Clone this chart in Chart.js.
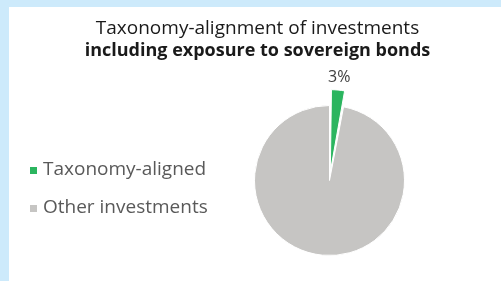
<!DOCTYPE html>
<html>
<head>
<meta charset="utf-8">
<title>Taxonomy-alignment of investments</title>
<script src="https://cdn.jsdelivr.net/npm/chart.js@4.4.1/dist/chart.umd.min.js"></script>
<style>
    html, body { margin: 0; padding: 0; }
    body { width: 501px; height: 281px; background: #cdeafb; position: relative; overflow: hidden; font-family: 'Open Sans', 'DejaVu Sans', sans-serif; }
    #panel { position: absolute; left: 9px; top: 7px; width: 492px; height: 274px; background: #fff; overflow: hidden; }
    #panel canvas { position: absolute; left: 0; top: 0; display: block; }
    #chart-title { position: absolute; left: 0; top: 9px; width: 497px; text-align: center; color: #1a1a1a; line-height: 22px; }
    #chart-title .main { font-size: 19px; font-weight: normal; }
    #chart-title .sub { font-size: 18px; font-weight: bold; }
    #chart-legend { position: absolute; left: 21px; top: 152px; margin: 0; padding: 0; list-style: none; }
    #chart-legend li { height: 19px; line-height: 19px; margin-bottom: 19px; font-size: 19px; color: #595959; white-space: nowrap; }
    #chart-legend .box { display: inline-block; width: 7px; height: 7px; margin-right: 6px; vertical-align: top; margin-top: 8px; }
</style>
</head>
<body>
<div id="panel">
    <canvas id="taxonomy-chart" width="492" height="274"></canvas>
    <div id="chart-title"><div class="main"></div><div class="sub"></div></div>
    <ul id="chart-legend"></ul>
</div>
<script>
const categories = ["Taxonomy-aligned", "Other investments"];
const shares = [3, 97];
const titleText = "Taxonomy-alignment of investments";
const subtitleText = "including exposure to sovereign bonds";

const FONT = "'Open Sans', 'DejaVu Sans', sans-serif";

// percentage label above the exploded slice (Excel only shows the aligned share)
const sliceLabel = {
    id: "sliceLabel",
    afterDatasetsDraw(chart) {
        const arc = chart.getDatasetMeta(0).data[0];
        if (!arc) return;
        const { x, y, startAngle, endAngle, outerRadius } = arc.getProps(
            ["x", "y", "startAngle", "endAngle", "outerRadius"], true
        );
        const mid = (startAngle + endAngle) / 2;
        const r = outerRadius + 29;
        const ctx = chart.ctx;
        ctx.save();
        ctx.font = "16px " + FONT;
        ctx.fillStyle = "#404040";
        ctx.textAlign = "center";
        ctx.textBaseline = "middle";
        ctx.fillText(shares[0] + "%", x + Math.cos(mid) * r, y + Math.sin(mid) * r);
        ctx.restore();
    },
};

const ctx = document.getElementById("taxonomy-chart").getContext("2d");

const chart = new Chart(ctx, {
    type: "pie",
    data: {
        labels: categories,
        datasets: [
            {
                data: shares,
                backgroundColor: ["#2bb55f", "#c6c5c3"],
                borderColor: "#ffffff",
                borderWidth: 1,
                offset: [35, 0],
                hoverOffset: 0,
            },
        ],
    },
    options: {
        responsive: false,
        animation: false,
        radius: 75,
        // pushes the pie to the right of the legend, centre at about (321, 173)
        layout: {
            padding: { left: 149, right: 0, top: 73, bottom: 0 },
        },
        plugins: {
            legend: { display: false },
            tooltip: { enabled: false },
        },
    },
    plugins: [sliceLabel],
});

// titles and legend as html text
document.querySelector("#chart-title .main").textContent = titleText;
document.querySelector("#chart-title .sub").textContent = subtitleText;

const legendEl = document.getElementById("chart-legend");
const items = Chart.overrides.pie.plugins.legend.labels.generateLabels(chart);
items.forEach((item) => {
    const li = document.createElement("li");
    const box = document.createElement("span");
    box.className = "box";
    box.style.background = item.fillStyle;
    li.appendChild(box);
    li.appendChild(document.createTextNode(item.text));
    legendEl.appendChild(li);
});
</script>
</body>
</html>
